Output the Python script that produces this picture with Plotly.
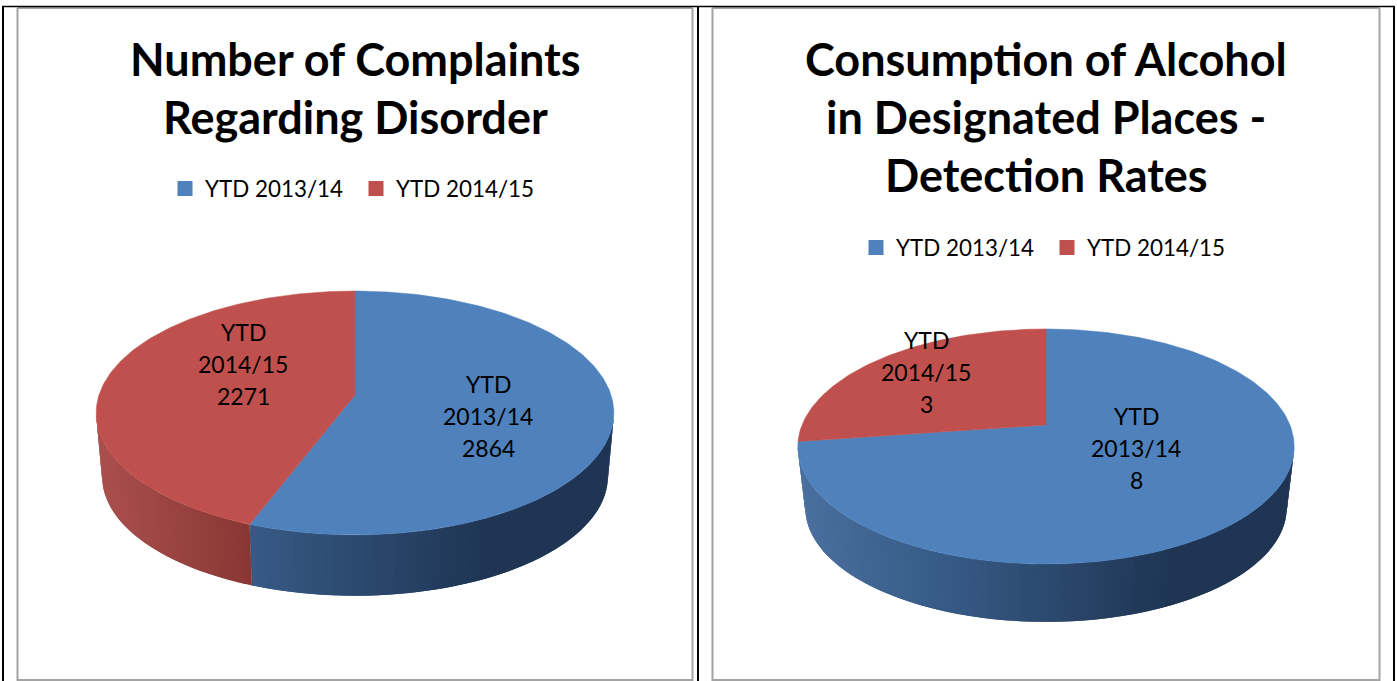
import math
import plotly.graph_objects as go

# ---------- data ----------
series_names = ["YTD 2013/14", "YTD 2014/15"]
complaints_values = [2864, 2271]
alcohol_values = [8, 3]
complaints_title = ["Number of Complaints", "Regarding Disorder"]
alcohol_title = ["Consumption of Alcohol", "in Designated Places -", "Detection Rates"]

# ---------- style / layout ----------
W, H = 1397, 681
TOP_COLORS = ["#4f81bd", "#c0504d"]
SIDE_STOPS = [
    [(0.0, (74, 111, 159)), (0.3, (54, 90, 133)), (0.75, (31, 53, 83)), (1.0, (31, 53, 83))],
    [(0.0, (170, 80, 77)), (0.3, (136, 54, 52)), (1.0, (136, 54, 52))],
]
FONT = "Lato, Carlito, Calibri, sans-serif"
TITLE_SIZE = 45
LABEL_SIZE = 23
LEGEND_SIZE = 22.4

PIE_LEFT = dict(cx=355, cy=395, A=256, B=119.3, k=0.1475, s=0.977, d=64)
PIE_RIGHT = dict(cx=1046, cy=425, A=244, B=113.6, k=0.183, s=0.97, d=62)


def project(g, theta, lower=False):
    X, Y = math.sin(theta), math.cos(theta)
    w = 1 + g["k"] * Y
    x = g["A"] * X / w
    y = -g["B"] * Y / w
    if lower:
        return g["cx"] + x * g["s"], g["cy"] + y * g["s"] + g["d"]
    return g["cx"] + x, g["cy"] + y


def side_color(stops, t):
    for (t0, c0), (t1, c1) in zip(stops, stops[1:]):
        if t <= t1:
            f = (t - t0) / (t1 - t0)
            return "rgb(%d,%d,%d)" % tuple(round(a + (b - a) * f) for a, b in zip(c0, c1))
    return "rgb(%d,%d,%d)" % stops[-1][1]


def add_pie(fig, values, g):
    total = sum(values)
    spans = []
    start = 0.0
    for v in values:
        end = start + v / total * 2 * math.pi
        spans.append((start, end))
        start = end
    sil_a = math.acos(-g["k"])
    sil_b = 2 * math.pi - sil_a
    # side wall, as narrow overlapping strips shaded left to right
    for i, (a, b) in enumerate(spans):
        lo, hi = max(a, sil_a), min(b, sil_b)
        if hi <= lo:
            continue
        n = max(2, int((hi - lo) / math.radians(1.5)))
        for j in range(n):
            t0 = lo + (hi - lo) * j / n
            t1 = lo + (hi - lo) * min(n, j + 2) / n
            tm = lo + (hi - lo) * (j + 0.5) / n
            p0, p1 = project(g, t0), project(g, t1)
            q0, q1 = project(g, t0, True), project(g, t1, True)
            t = (project(g, tm)[0] - (g["cx"] - g["A"] * 1.01)) / (2 * g["A"] * 1.01)
            c = side_color(SIDE_STOPS[i], max(0, min(1, t)))
            fig.add_trace(go.Scatter(
                x=[p0[0], p1[0], q1[0], q0[0], p0[0]],
                y=[p0[1], p1[1], q1[1], q0[1], p0[1]],
                mode="lines", fill="toself", fillcolor=c,
                line=dict(color=c, width=0), hoverinfo="skip", showlegend=False))
    # top surface
    for i, (a, b) in enumerate(spans):
        n = max(4, int((b - a) / math.radians(1)))
        pts = [project(g, a + (b - a) * j / n) for j in range(n + 1)]
        xs = [g["cx"]] + [p[0] for p in pts] + [g["cx"]]
        ys = [g["cy"]] + [p[1] for p in pts] + [g["cy"]]
        fig.add_trace(go.Scatter(
            x=xs, y=ys, mode="lines", fill="toself", fillcolor=TOP_COLORS[i],
            line=dict(color=TOP_COLORS[i], width=0.5), hoverinfo="skip",
            name=series_names[i], showlegend=False))


fig = go.Figure()
add_pie(fig, complaints_values, PIE_LEFT)
add_pie(fig, alcohol_values, PIE_RIGHT)

# legends
for legend_id in ["legend", "legend2"]:
    for name, color in zip(series_names, TOP_COLORS):
        fig.add_trace(go.Scatter(
            x=[None], y=[None], mode="markers", name=name, legend=legend_id,
            marker=dict(symbol="square", size=15, color=color), hoverinfo="skip"))

annotations = []
for lines, cx, ys in [(complaints_title, 355, [58.5, 116.5]), (alcohol_title, 1046, [58.5, 116.5, 174.5])]:
    for text, y in zip(lines, ys):
        annotations.append(dict(x=cx, y=y, text="<b>%s</b>" % text, showarrow=False,
                                xref="x", yref="y", xanchor="center", yanchor="middle",
                                font=dict(family=FONT, size=TITLE_SIZE, color="#000000")))

label_spots = [
    (complaints_values[0], series_names[0], 488, 384),
    (complaints_values[1], series_names[1], 243, 332),
    (alcohol_values[0], series_names[0], 1136, 416),
    (alcohol_values[1], series_names[1], 926, 340),
]
for value, name, x, y in label_spots:
    word, period = name.split(" ")
    for n, text in enumerate([word, period, str(value)]):
        annotations.append(dict(x=x, y=y + n * 32, text=text,
                                showarrow=False, xref="x", yref="y", xanchor="center", yanchor="middle",
                                font=dict(family=FONT, size=LABEL_SIZE, color="#000000")))

shapes = []
def rule(x0, y0, x1, y1, color, width):
    shapes.append(dict(type="line", xref="x", yref="y", x0=x0, y0=y0, x1=x1, y1=y1,
                       line=dict(color=color, width=width), layer="above"))

GRAY = "#a3a3a3"
for x0, x1 in [(17.5, 692.5), (712.5, 1379.5)]:
    rule(x0, 8, x0, 681, GRAY, 2)
    rule(x1, 8, x1, 681, GRAY, 2)
    rule(x0, 8, x1, 8, GRAY, 2)
    rule(x0, 680, x1, 680, GRAY, 2)
rule(2, 6.5, 1395, 6.5, "#000000", 1.5)
rule(3, 6, 3, 681, "#000000", 2)
rule(698, 6, 698, 681, "#000000", 2)
rule(1394, 6, 1394, 681, "#000000", 2)

legend_style = dict(orientation="h", xanchor="left", yanchor="middle", yref="paper",
                    font=dict(family=FONT, size=LEGEND_SIZE, color="#000000"),
                    bgcolor="rgba(0,0,0,0)", entrywidth=146, entrywidthmode="pixels",
                    itemwidth=30, tracegroupgap=0, itemclick=False, itemdoubleclick=False)

fig.update_layout(
    width=W, height=H, autosize=False,
    margin=dict(l=0, r=0, t=0, b=0),
    paper_bgcolor="#ffffff", plot_bgcolor="#ffffff",
    xaxis=dict(range=[0, W], visible=False, fixedrange=True),
    yaxis=dict(range=[H, 0], visible=False, fixedrange=True),
    legend=dict(x=(165) / W, y=1 - 189 / H, **legend_style),
    legend2=dict(x=(856) / W, y=1 - 248 / H, **legend_style),
    annotations=annotations, shapes=shapes, showlegend=True,
)

fig.write_html("out.html", config={"displayModeBar": False},
               post_script="document.body.style.margin='0';document.body.style.overflow='hidden';")
